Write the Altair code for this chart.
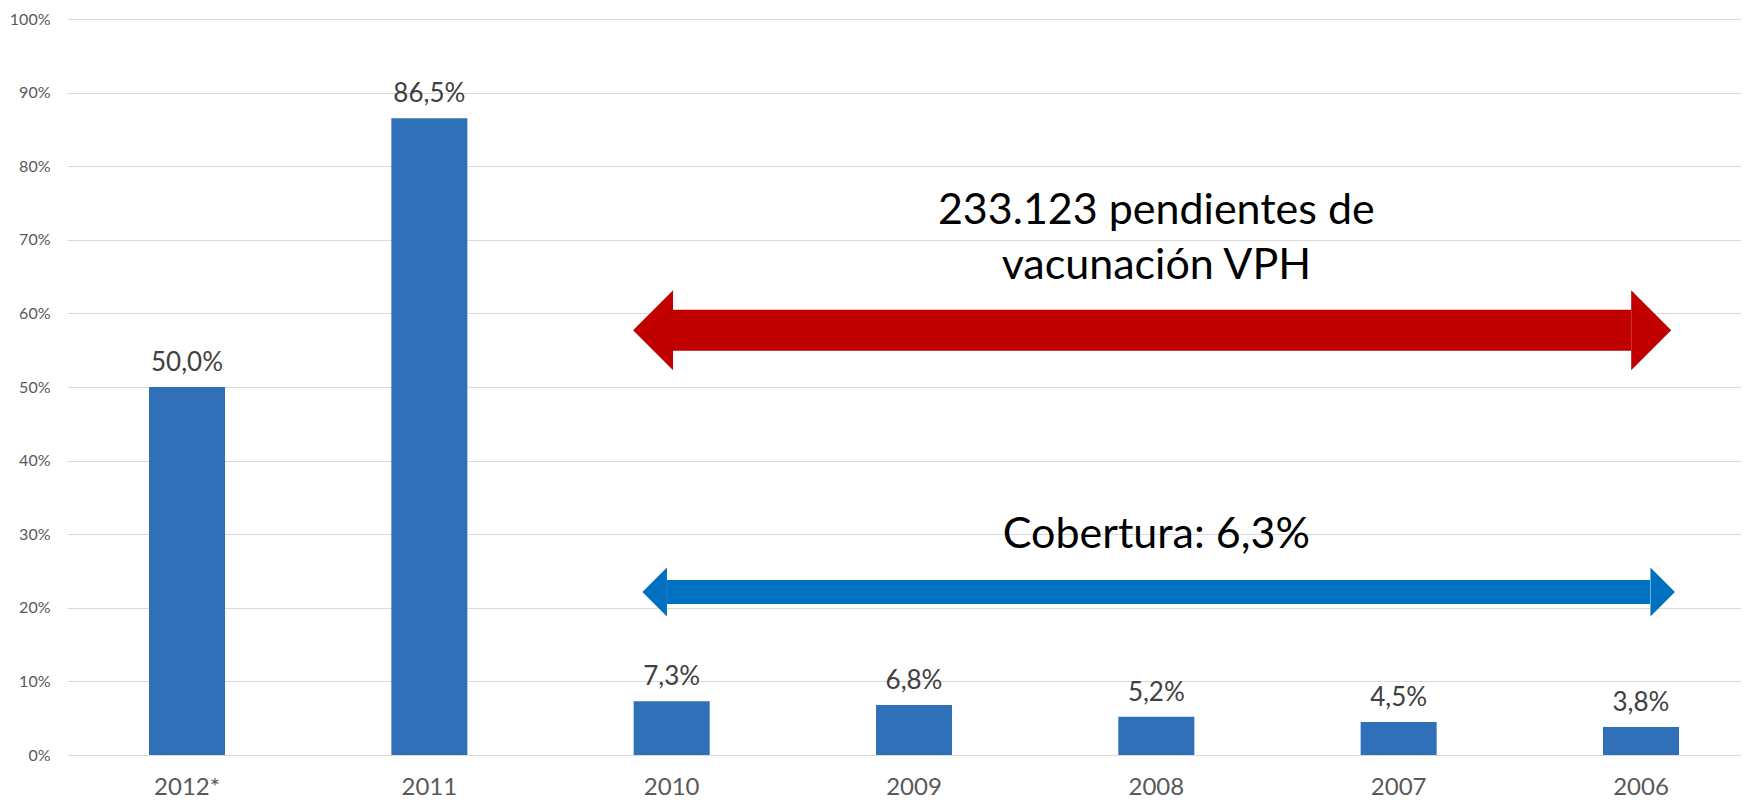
import altair as alt
import pandas as pd

# ---- data ----
years = ["2012*", "2011", "2010", "2009", "2008", "2007", "2006"]
coverage = [50.0, 86.5, 7.3, 6.8, 5.2, 4.5, 3.8]
coverage_labels = ["50,0%", "86,5%", "7,3%", "6,8%", "5,2%", "4,5%", "3,8%"]
y_ticks = [0, 10, 20, 30, 40, 50, 60, 70, 80, 90, 100]

arrow_from = ["2010", "2010"]
arrow_to = ["2006", "2006"]
arrow_level = [57.7, 22.15]

note_texts = ["233.123 pendientes de", "vacunación VPH", "Cobertura: 6,3%"]
note_year = ["2008", "2008", "2008"]
note_level = [73.9, 66.4, 29.9]

FONT = "Lato"
BAR = "#2F70B9"

bars_df = pd.DataFrame({"year": years, "value": coverage, "label": coverage_labels})
notes_df = pd.DataFrame({"text": note_texts, "year": note_year, "value": note_level})

x_scale = alt.Scale(domain=years, range=[0, 1694], paddingInner=0.6863, paddingOuter=0.3384)
y_scale = alt.Scale(domain=[0, 100], nice=False)

x_axis = alt.Axis(title=None, domain=False, ticks=False, tickSize=0, labelFont=FONT,
                  labelFontSize=24, labelColor="#595959", labelPadding=32,
                  labelBaseline="middle", labelAngle=0, grid=False)
y_axis = alt.Axis(title=None, domain=False, ticks=False, tickSize=0, values=y_ticks,
                  labelExpr="datum.value + '%'", labelFont=FONT, labelFontSize=16,
                  labelColor="#595959", labelPadding=17, grid=True,
                  gridColor="#D9D9D9", gridWidth=1)


def X(field):
    return alt.X(field, scale=x_scale, sort=years, axis=x_axis)


def Y(field):
    return alt.Y(field, scale=y_scale, axis=y_axis)


bars = alt.Chart(bars_df).mark_bar(color=BAR).encode(x=X("year:N"), y=Y("value:Q"))

labels = alt.Chart(bars_df).mark_text(
    font=FONT, fontSize=26, color="#404040", baseline="alphabetic", dy=-16
).encode(x=X("year:N"), y=Y("value:Q"), text="label:N")

layers = [bars, labels]

# arrow styles: (color, shaft width, shaft offsets, head size, head offsets)
arrow_styles = [
    ("#C00000", 41, 1, -10, 6400, -18.6, 10.2),
    ("#0070C0", 24, -4.6, 9, 2401, -17, 21.7),
]
LEFT_HEAD = "M-0.5,0L0.5,-1L0.5,1Z"
RIGHT_HEAD = "M0.5,0L-0.5,-1L-0.5,1Z"

for i, (col, sw, off1, off2, hsize, hoff1, hoff2) in enumerate(arrow_styles):
    adf = pd.DataFrame({"start": [arrow_from[i]], "end": [arrow_to[i]], "value": [arrow_level[i]]})
    shaft = alt.Chart(adf).mark_rule(
        color=col, strokeWidth=sw, strokeCap="butt", xOffset=off1, x2Offset=off2
    ).encode(x=X("start:N"), x2="end:N", y=Y("value:Q"))
    head_l = alt.Chart(adf).mark_point(
        shape=LEFT_HEAD, filled=True, color=col, opacity=1, size=hsize,
        strokeWidth=0, xOffset=hoff1
    ).encode(x=X("start:N"), y=Y("value:Q"))
    head_r = alt.Chart(adf).mark_point(
        shape=RIGHT_HEAD, filled=True, color=col, opacity=1, size=hsize,
        strokeWidth=0, xOffset=hoff2
    ).encode(x=X("end:N"), y=Y("value:Q"))
    layers += [shaft, head_l, head_r]

notes = alt.Chart(notes_df).mark_text(
    font=FONT, fontSize=43, color="#000000", baseline="middle", align="center"
).encode(x=X("year:N"), y=Y("value:Q"), text="text:N")
layers.append(notes)

chart = alt.layer(*layers).properties(
    width=1674, height=736,
    background="white",
    autosize=alt.AutoSizeParams(type="none"),
    padding={"left": 59, "top": 11, "right": 0, "bottom": 44},
).configure_view(stroke=None)

chart.save("out.html", embed_options={"renderer": "svg", "actions": False})
